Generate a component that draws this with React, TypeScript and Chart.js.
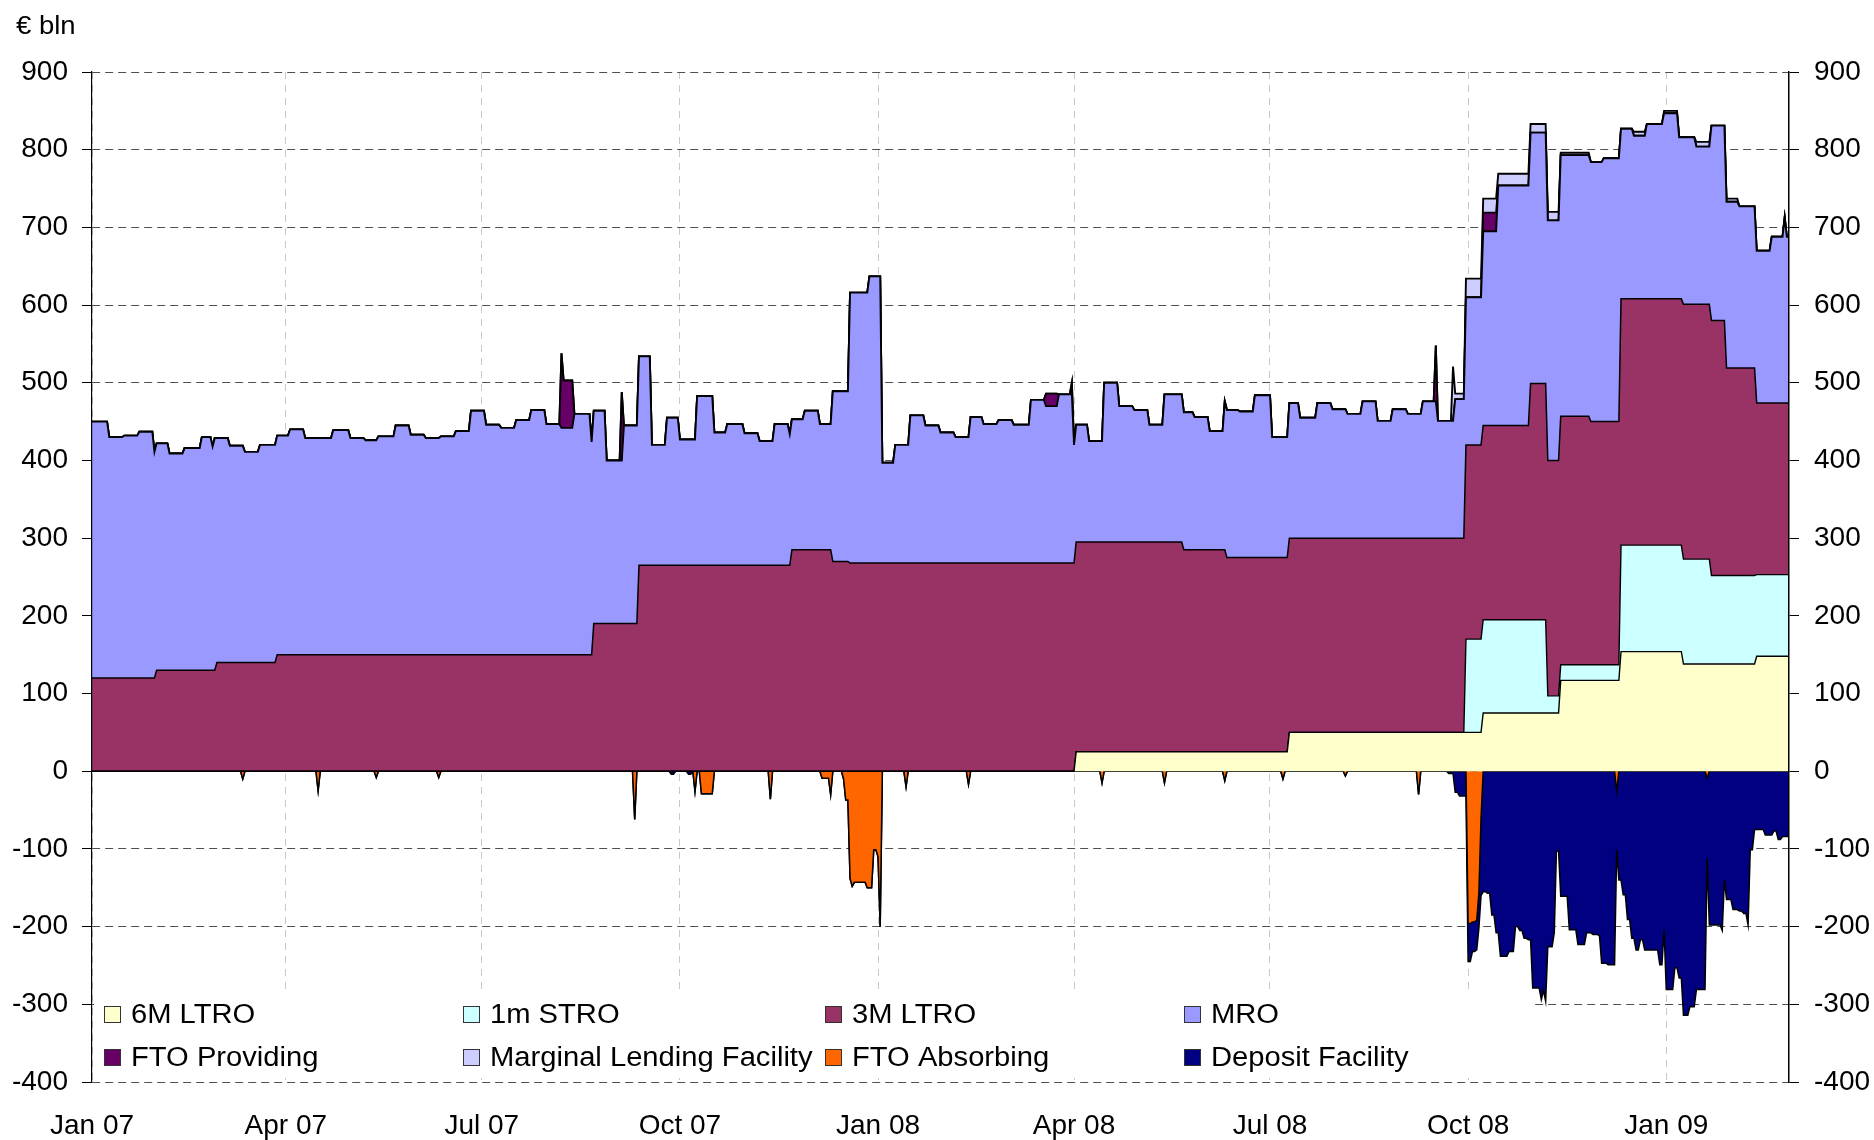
import React, { useEffect, useRef } from "react";
import { Chart, registerables } from "chart.js";

Chart.register(...registerables);

// ---- axis definitions (x = days since 1 Jan 2007) ----
const FIRST_DAY = 0;
const LAST_DAY = 788;
const X_TICK_DAYS = [0, 90, 181, 273, 365, 456, 547, 639, 731];
const X_TICK_LABELS = ["Jan 07", "Apr 07", "Jul 07", "Oct 07", "Jan 08", "Apr 08", "Jul 08", "Oct 08", "Jan 09"];
const Y_MIN = -400;
const Y_MAX = 900;
const Y_STEP = 100;
const Y_UNIT = "€ bln";

// ---- series: change points [day, value in € bln] ----
const LTRO_6M = [[0, 0], [457, 25], [556, 50], [646, 75], [682, 117], [710, 154], [739, 138], [773, 148]];

const STRO_1M = [[0, 0], [638, 120], [676, 22], [682, 20], [710, 137], [739, 135], [752, 114], [773, 105]];

const LTRO_3M = [
  [0, 120], [30, 130], [58, 140], [86, 150], [233, 190], [254, 265], [325, 285], [344, 270], [352, 268],
  [457, 270], [507, 260], [527, 250], [668, 304], [676, 303], [682, 320], [696, 313], [710, 317],
  [739, 328], [759, 267], [773, 221],
];

const MRO = [
  [0, 330], [8, 310], [15, 312], [22, 317], [29, 291], [30, 292], [36, 279], [43, 286], [51, 300], [56, 288],
  [57, 299], [58, 289], [64, 279], [71, 271], [78, 280], [86, 282], [92, 290], [99, 279], [112, 289], [120, 279],
  [127, 276], [133, 281], [141, 295], [148, 283], [155, 279], [162, 281], [169, 288], [176, 314], [183, 296],
  [190, 292], [197, 302], [204, 315], [211, 297], [218, 292], [224, 310], [232, 274], [239, 210], [247, 255],
  [254, 269], [260, 155], [267, 190], [273, 162], [281, 218], [289, 171], [295, 182], [303, 170], [310, 160],
  [317, 182], [324, 169], [325, 168], [331, 179], [338, 162], [344, 219], [352, 348], [361, 369], [367, 129],
  [373, 152], [380, 190], [387, 177], [394, 168], [401, 162], [408, 188], [414, 179], [421, 184], [428, 178],
  [436, 210], [443, 202], [449, 217], [456, 152], [457, 151], [463, 130], [470, 205], [477, 175], [484, 170],
  [491, 151], [498, 190], [507, 177], [512, 171], [519, 153], [526, 191], [527, 190], [533, 188], [540, 209],
  [548, 155], [556, 174], [561, 155], [569, 174], [576, 166], [583, 160], [590, 176], [597, 151], [604, 166],
  [611, 160], [618, 176], [625, 151], [633, 179], [638, 190], [646, 250], [653, 309], [668, 323], [676, 309],
  [682, 336], [696, 334], [702, 339], [710, 219], [716, 210], [722, 225], [730, 239], [737, 208], [739, 215],
  [745, 203], [752, 251], [759, 214], [765, 208], [773, 196], [780, 214], [786, 239], [787, 214],
];

const FTO_PROVIDING = [
  [0, 0], [218, 96], [219, 61], [224, 0], [246, 88], [247, 0], [443, 16], [449, 0], [455, 15], [456, 0],
  [624, 72], [625, 0], [646, 24], [653, 0],
];

const MARGINAL_LENDING = [
  [0, 0], [632, 70], [633, 7], [638, 24], [646, 18], [653, 15], [668, 11], [682, 3], [696, 0], [716, 5],
  [722, 0], [730, 3], [737, 0], [745, 6], [752, 0], [759, 4], [765, 0],
];

const FTO_ABSORBING = [
  [0, 0], [70, -10], [71, 0], [105, -25], [106, 0], [132, -8], [133, 0], [161, -8], [162, 0], [252, -62],
  [253, 0], [280, -26], [281, 0], [283, -29], [289, 0], [315, -36], [316, 0], [339, -9], [343, -30], [344, 0],
  [349, -10], [350, -37], [352, -138], [353, -148], [354, -143], [360, -150], [363, -101], [365, -110],
  [366, -200], [367, 0], [378, -20], [379, 0], [407, -17], [408, 0], [469, -15], [470, 0], [498, -15],
  [499, 0], [526, -12], [527, 0], [553, -10], [554, 0], [582, -6], [583, 0], [616, -30], [617, 0],
  [639, -196], [641, -194], [643, -192], [644, -157], [645, -60], [646, 0], [708, -26], [709, 0],
  [750, -9], [751, 0],
];

const DEPOSIT_FACILITY = [
  [0, 0], [269, -4], [271, 0], [277, -4], [279, 0], [630, -3], [633, -27], [635, -32], [639, -49], [641, -38],
  [644, -45], [645, -100], [646, -155], [648, -157], [650, -185], [652, -208], [654, -238], [658, -232],
  [661, -200], [663, -205], [665, -215], [667, -217], [669, -279], [673, -294], [674, -282], [675, -296],
  [676, -226], [679, -208], [680, -103], [682, -161], [686, -204], [690, -223], [694, -208], [697, -210],
  [700, -212], [701, -247], [704, -249], [708, -75], [709, -140], [711, -159], [713, -191], [715, -215],
  [717, -230], [719, -217], [721, -230], [728, -249], [730, -204], [731, -281], [735, -253], [737, -266],
  [739, -314], [742, -303], [745, -281], [750, -103], [751, -198], [757, -205], [758, -140], [759, -165],
  [762, -178], [765, -180], [767, -183], [769, -198], [770, -101], [772, -75], [777, -82], [781, -77],
  [783, -88], [785, -84],
];

const SERIES_LABELS = [
  "6M LTRO", "1m STRO", "3M LTRO", "MRO",
  "FTO Providing", "Marginal Lending Facility", "FTO Absorbing", "Deposit Facility",
];
const SERIES_DATA = [LTRO_6M, STRO_1M, LTRO_3M, MRO, FTO_PROVIDING, MARGINAL_LENDING, FTO_ABSORBING, DEPOSIT_FACILITY];
const SERIES_COLORS = ["#FFFFCC", "#CCFFFF", "#993366", "#9999FF", "#660066", "#CCCCFF", "#FF6600", "#000080"];
const SERIES_STACK = ["pos", "pos", "pos", "pos", "pos", "pos", "neg", "neg"];
const SERIES_FILL = ["origin", "-1", "-1", "-1", "-1", "-1", "origin", "-1"];
const SERIES_BORDER = [1.4, 1.4, 1.5, 1.9, 1.9, 1.9, 1.5, 1.5];

// value held from each change point until the next one (daily series)
function holdSteps(points: number[][]) {
  const out: { x: number; y: number }[] = [];
  let k = 0;
  let cur = 0;
  for (let d = FIRST_DAY; d <= LAST_DAY; d++) {
    while (k < points.length && points[k][0] <= d) {
      cur = points[k][1];
      k++;
    }
    out.push({ x: d, y: cur });
  }
  return out;
}

const FONT = '"Liberation Sans", Arial, sans-serif';

function stretchText(ctx: CanvasRenderingContext2D, text: string, x: number, y: number, sx: number) {
  ctx.save();
  ctx.translate(x, y);
  ctx.scale(sx, 1);
  ctx.fillText(text, 0, 0);
  ctx.restore();
}

const overlayPlugin = {
  id: "overlay",
  afterDraw(chart: any) {
    const ctx: CanvasRenderingContext2D = chart.ctx;
    const area = chart.chartArea;
    ctx.save();
    // legend panel inside the plot
    const lx = area.left + 2;
    const ly = 993;
    const lw = 1533 - lx;
    const lh = 1078 - ly;
    ctx.fillStyle = "#ffffff";
    ctx.fillRect(lx, ly, lw, lh);
    const colX = [104, 463, 825, 1184];
    const rowY = [1014, 1057];
    ctx.font = `27px ${FONT}`;
    ctx.textBaseline = "middle";
    chart.data.datasets.forEach((ds: any, i: number) => {
      const bx = colX[i % 4];
      const cy = rowY[Math.floor(i / 4)];
      ctx.fillStyle = ds.backgroundColor;
      ctx.fillRect(bx, cy - 8, 17, 17);
      ctx.strokeStyle = "#333333";
      ctx.lineWidth = 1;
      ctx.strokeRect(bx + 0.5, cy - 7.5, 16, 16);
      ctx.fillStyle = "#000000";
      stretchText(ctx, ds.label, bx + 27, cy + 2, 1.08);
    });
    // unit label
    ctx.textBaseline = "alphabetic";
    ctx.font = `25px ${FONT}`;
    ctx.fillStyle = "#000000";
    stretchText(ctx, Y_UNIT, 16, 34, 1.1);
    ctx.restore();
  },
};

export default function App() {
  const ref = useRef<HTMLCanvasElement>(null);

  useEffect(() => {
    const datasets = SERIES_LABELS.map((label, i) => ({
      label,
      data: holdSteps(SERIES_DATA[i]),
      backgroundColor: SERIES_COLORS[i],
      borderColor: "#000000",
      borderWidth: SERIES_BORDER[i],
      pointRadius: 0,
      tension: 0,
      fill: SERIES_FILL[i],
      stack: SERIES_STACK[i],
      xAxisID: "x",
      yAxisID: "y",
    }));

    const yTicks = {
      stepSize: Y_STEP,
      color: "#000000",
      font: { family: FONT, size: 28 },
    };

    const chart = new Chart(ref.current as HTMLCanvasElement, {
      type: "line",
      data: { datasets } as any,
      options: {
        responsive: false,
        animation: false,
        events: [],
        layout: { padding: { top: 72, left: 0, right: 0, bottom: 0 } },
        plugins: { legend: { display: false }, tooltip: { enabled: false }, title: { display: false } },
        scales: {
          x: {
            type: "linear",
            min: FIRST_DAY,
            max: LAST_DAY,
            offset: false,
            afterBuildTicks: (scale: any) => {
              scale.ticks = X_TICK_DAYS.map((v) => ({ value: v }));
            },
            afterFit: (scale: any) => {
              scale.height = 58;
            },
            ticks: {
              autoSkip: false,
              maxRotation: 0,
              padding: 27,
              color: "#000000",
              font: { family: FONT, size: 28 },
              callback: (v: any) => {
                const idx = X_TICK_DAYS.indexOf(Number(v));
                return idx >= 0 ? X_TICK_LABELS[idx] : "";
              },
            },
            grid: { color: "#c8c8c8", lineWidth: 1, drawTicks: false },
            border: { display: false, dash: [7, 6] },
          },
          y: {
            type: "linear",
            position: "left",
            stacked: true,
            min: Y_MIN,
            max: Y_MAX,
            afterFit: (scale: any) => {
              scale.width = 92;
            },
            ticks: { ...yTicks, padding: 14 },
            grid: { color: "#505050", lineWidth: 1, tickLength: 10, tickColor: "#000000", tickBorderDash: [] },
            border: { display: true, color: "#000000", width: 1.2, dash: [8, 5], z: 1 },
          },
          y2: {
            type: "linear",
            position: "right",
            min: Y_MIN,
            max: Y_MAX,
            afterFit: (scale: any) => {
              scale.width = 85;
            },
            ticks: { ...yTicks, padding: 15 },
            grid: { drawOnChartArea: false, tickLength: 10, tickColor: "#000000" },
            border: { display: true, color: "#000000", width: 1.5, z: 1 },
          },
        },
      } as any,
      plugins: [overlayPlugin],
    });
    return () => chart.destroy();
  }, []);

  return (
    <div style={{ position: "fixed", left: 0, top: 0, width: 1874, height: 1140, background: "#ffffff" }}>
      <canvas ref={ref} width={1874} height={1140} style={{ width: 1874, height: 1140, display: "block" }} />
    </div>
  );
}
